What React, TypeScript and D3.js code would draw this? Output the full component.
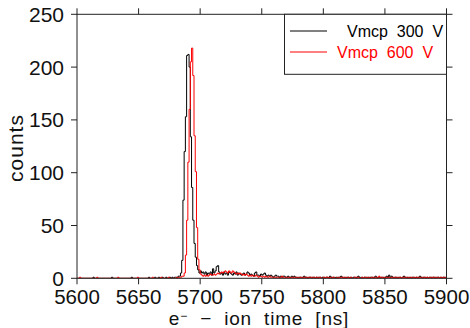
import React from "react";
import * as d3 from "d3";

const binStart = 5600;
const binWidth = 1;
const xTicks = [5600, 5650, 5700, 5750, 5800, 5850, 5900];
const yTicks = [0, 50, 100, 150, 200, 250];
const seriesNames = ["Vmcp  300  V", "Vmcp  600  V"];
const seriesColors = ["#000000", "#ff0000"];

const counts300 = [
  0,0,0,0,0,0,0,0,0,0, 0,0,0,1,0,0,0,0,0,0, 0,0,0,0,0,0,0,0,1,0, 0,0,0,0,0,0,0,0,0,0,
  0,0,0,0,1,0,0,0,0,0, 0,0,0,0,0,0,0,0,1,0, 0,0,0,1,0,0,1,0,0,1, 0,0,1,0,0,1,0,1,0,1,
  1,0,2,2,5,17,74,120,153,211, 212,200,134,86,55,33,20,12,8,5,
  7,5,6,4,6,3,5,4,6,3, 9,5,7,11,12,6,4,5,3,6, 4,5,3,6,5,4,3,5,4,6, 3,5,4,3,4,5,3,4,6,5,
  3,4,3,2,5,6,3,3,2,4, 3,4,5,3,2,3,2,3,2,1, 2,3,2,2,1,2,1,2,2,1, 1,2,1,1,2,1,2,1,1,0,
  1,1,0,1,2,1,1,0,1,1, 0,1,1,0,1,0,1,1,0,1, 1,0,1,1,0,2,1,0,1,0, 1,0,1,1,2,1,0,1,0,1,
  1,0,1,0,1,1,0,1,2,1, 0,1,0,1,1,0,1,0,1,1, 0,1,2,1,0,1,0,1,1,0, 1,2,1,3,1,2,1,0,1,1,
  0,1,1,0,1,2,1,0,1,0, 1,0,1,1,0,1,0,1,2,1, 0,1,1,0,1,0,1,1,0,1, 1,0,1,1,0,1,0,1,1,0,
];

const counts600 = [
  0,0,1,0,0,0,0,0,0,0, 0,0,0,0,0,0,1,0,0,0, 0,0,0,0,0,0,0,0,0,0, 0,0,0,1,0,0,0,0,0,0,
  0,0,0,0,0,0,0,0,0,1, 0,0,0,0,0,0,0,0,0,0, 0,1,0,0,0,0,0,0,1,0, 0,0,0,0,1,0,0,0,0,0,
  0,1,0,1,1,2,2,5,22,55, 110,160,205,218,192,135,101,48,18,8,
  4,3,2,3,2,3,2,3,4,3, 3,4,3,4,5,4,5,6,5,6, 7,6,5,7,6,5,7,6,5,4, 5,4,5,4,3,4,3,4,3,2,
  3,2,3,2,2,3,2,1,2,2, 1,2,1,2,1,1,2,1,1,1, 1,0,1,1,0,1,2,1,0,1, 1,0,1,0,1,1,0,1,0,1,
  0,1,1,0,1,0,1,0,1,1, 1,0,1,0,1,1,0,1,0,0, 1,0,1,1,0,1,0,1,1,0, 0,1,0,1,0,1,1,0,1,0,
  1,0,1,0,0,1,1,0,1,0, 0,1,0,1,0,1,0,1,0,1, 1,0,1,0,1,2,0,1,0,1, 0,1,0,1,0,1,0,1,1,0,
  1,0,1,0,1,0,1,1,0,1, 0,1,0,1,0,1,1,0,1,0, 1,0,1,0,1,0,1,0,1,1, 0,1,0,1,0,1,0,1,0,1,
];

const W = 470, H = 328;
const left = 77, right = 446.5, top = 14.3, bottom = 278.3;
const FONT = "'Liberation Sans', Arial, sans-serif";
const AX = "#222";

export default function App() {
  const x = d3.scaleLinear().domain([5600, 5900]).range([left, right]);
  const y = d3.scaleLinear().domain([0, 250]).range([bottom, top]);
  const line = d3
    .line<[number, number]>()
    .x((d) => x(d[0]))
    .y((d) => y(d[1]))
    .curve(d3.curveStepAfter);
  const toPts = (arr: number[]): [number, number][] => {
    const p: [number, number][] = arr.map((v, i) => [binStart + i * binWidth, v]);
    p.push([binStart + arr.length * binWidth, arr[arr.length - 1]]);
    return p;
  };
  const series = [counts300, counts600];
  const tl = 6;
  return (
    <svg width={W} height={H} style={{ position: "absolute", left: 0, top: 0, background: "#fff" }}>
      <defs>
        <clipPath id="plot">
          <rect x={left} y={top} width={right - left} height={bottom - top} />
        </clipPath>
      </defs>
      <g clipPath="url(#plot)">
        {series.map((s, i) => (
          <path key={i} d={line(toPts(s)) || ""} fill="none" stroke={seriesColors[i]} strokeWidth={1} />
        ))}
      </g>
      <rect x={left} y={top} width={right - left} height={bottom - top} fill="none" stroke={AX} strokeWidth={1} />
      {xTicks.map((t) => (
        <g key={t}>
          <line x1={x(t)} x2={x(t)} y1={bottom} y2={bottom + tl} stroke={AX} />
          <line x1={x(t)} x2={x(t)} y1={top} y2={top - tl} stroke={AX} />
          <text x={x(t)} y={303.5} textAnchor="middle" fontFamily={FONT} fontSize={20.5} fill="#111">
            {t}
          </text>
        </g>
      ))}
      {yTicks.map((t) => (
        <g key={t}>
          <line x1={left} x2={left - tl} y1={y(t)} y2={y(t)} stroke={AX} />
          <line x1={right} x2={right + tl} y1={y(t)} y2={y(t)} stroke={AX} />
          <text x={64} y={y(t) + 7.5} textAnchor="end" fontFamily={FONT} fontSize={21} fill="#111">
            {t}
          </text>
        </g>
      ))}
      <text
        transform={`translate(23,148) rotate(-90)`}
        textAnchor="middle"
        fontFamily={FONT}
        fontSize={21}
        letterSpacing={1}
        fill="#111"
      >
        counts
      </text>
      <text
        x={259}
        y={325}
        textAnchor="middle"
        fontFamily={FONT}
        fontSize={19}
        letterSpacing={0.8}
        fill="#111"
        style={{ whiteSpace: "pre" }}
      >
        e<tspan dy={-5} fontSize={12}>−</tspan>
        <tspan dy={5}>{"  −  ion  time  [ns]"}</tspan>
      </text>
      <rect x={284.5} y={top} width={right - 284.5} height={60} fill="#fff" stroke={AX} strokeWidth={1} />
      {seriesNames.map((n, i) => (
        <g key={n}>
          <line x1={290} x2={327} y1={31 + i * 21} y2={31 + i * 21} stroke={seriesColors[i]} strokeWidth={1} />
          <text
            x={i === 0 ? 347 : 337}
            y={37 + i * 21}
            fontFamily={FONT}
            fontSize={16}
            fill={seriesColors[i]}
            style={{ whiteSpace: "pre" }}
          >
            {n}
          </text>
        </g>
      ))}
    </svg>
  );
}
